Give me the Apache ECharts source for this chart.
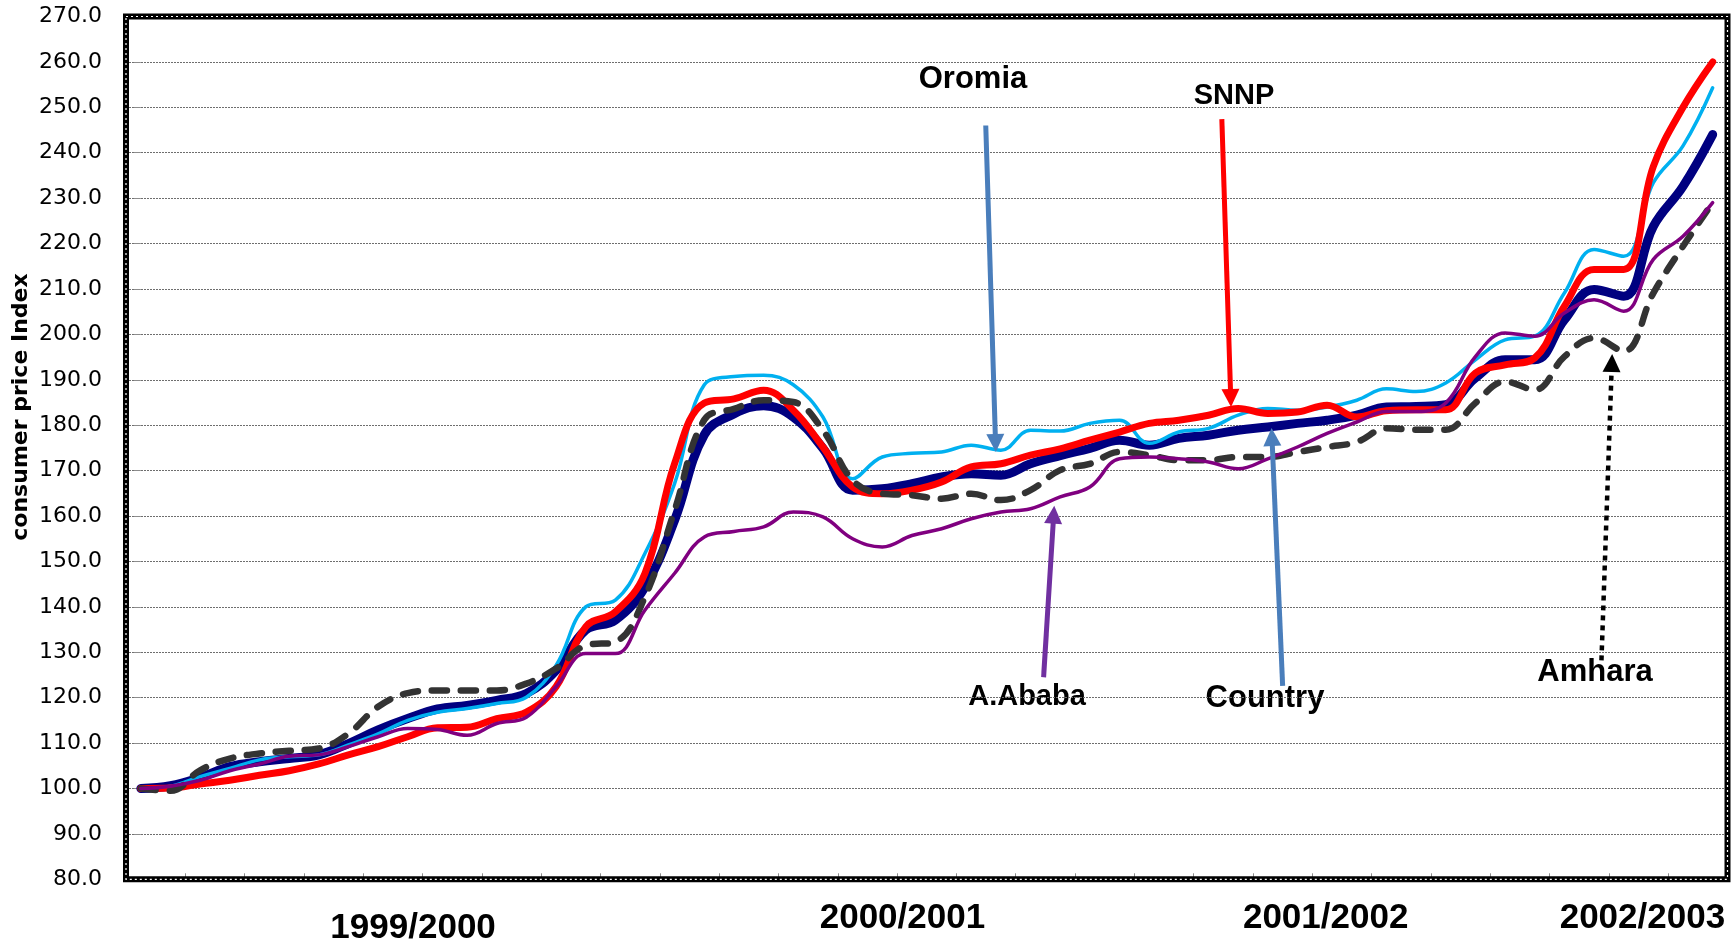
<!DOCTYPE html>
<html>
<head>
<meta charset="utf-8">
<title>consumer price Index</title>
<script src="https://cdn.jsdelivr.net/npm/echarts@6/dist/echarts.min.js"></script>
<style>
html, body { margin: 0; padding: 0; background: #fff; }
#cpi-chart { width: 1734px; height: 950px; }
</style>
</head>
<body>
<div id="cpi-chart"></div>
<script>
// monthly periods, 4 fiscal years
const periods = Array.from({ length: 54 }, (_, i) => "M" + (i + 1));

const country = [100.0, 100.6, 102.4, 104.8, 105.9, 106.6, 107.4, 109.9, 112.9, 115.4, 117.5,
  118.3, 119.4, 120.9, 126.0, 134.9, 137.1, 144.4, 159.1, 177.9, 182.5, 184.3,
  181.8, 174.9, 165.7, 166.0, 167.1, 168.6, 169.3, 169.0, 171.5, 173.3,
  174.9, 176.7, 175.6, 177.1, 177.8, 178.9, 179.6, 180.4, 181.1, 182.2, 184.0,
  184.1, 184.5, 190.4, 194.4, 194.4, 203.2, 209.9, 208.4, 223.8, 232.6, 244.0];

const oromia = [100.0, 100.5, 102.6, 104.4, 106.3, 107.0, 107.4, 109.6, 112.0, 115.0, 116.8,
  117.6, 118.7, 120.1, 127.1, 140.0, 141.5, 151.8, 167.2, 188.9, 190.7, 191.0,
  188.9, 181.8, 168.2, 173.0, 173.8, 174.1, 175.6, 174.5, 178.9, 178.7,
  180.4, 181.1, 176.0, 178.5, 179.3, 182.2, 183.7, 183.3, 184.0, 185.5, 188.0,
  187.4, 189.3, 194.4, 198.8, 199.6, 209.1, 218.7, 217.2, 233.4, 241.5, 254.3];

const snnp = [100.0, 100.1, 101.0, 101.8, 102.9, 103.9, 105.4, 107.4, 109.2, 111.4, 113.4,
  113.5, 115.4, 116.8, 122.4, 135.6, 138.9, 147.4, 171.6, 184.9, 185.8, 187.7,
  183.3, 175.2, 166.4, 164.9, 165.7, 167.5, 170.8, 171.5, 173.4, 174.8,
  176.7, 178.5, 180.4, 181.1, 182.2, 183.7, 182.6, 182.9, 184.4, 181.8, 183.2,
  183.4, 183.4, 191.5, 193.3, 194.8, 206.2, 214.3, 214.3, 237.0, 250.0, 260.0];

const amhara = [100.0, 99.5, 104.0, 106.6, 107.7, 108.3, 108.8, 112.1, 118.0, 121.0, 121.6,
  121.6, 121.6, 123.1, 126.4, 131.5, 132.3, 142.2, 161.3, 181.2, 183.6, 185.5,
  185.1, 178.9, 167.9, 164.9, 164.6, 163.8, 164.9, 163.5, 165.7, 170.1,
  171.5, 174.1, 173.4, 172.3, 172.3, 173.0, 173.0, 174.1, 175.2, 176.3, 179.3,
  179.0, 179.0, 184.9, 189.6, 187.8, 195.1, 199.2, 196.3, 209.1, 219.4, 229.0];

const aAbaba = [100.0, 100.5, 101.8, 103.9, 105.4, 107.1, 107.4, 109.2, 111.4, 113.2, 113.0,
  111.7, 114.3, 115.7, 122.4, 129.7, 129.7, 139.3, 147.4, 155.4, 156.6, 157.6,
  160.9, 159.8, 155.0, 153.2, 155.7, 157.2, 159.4, 160.9, 161.6, 164.2,
  166.4, 172.6, 173.0, 172.6, 171.9, 170.4, 172.6, 175.2, 178.2, 180.7, 183.0,
  183.0, 184.9, 195.1, 200.3, 199.6, 204.7, 207.6, 205.1, 216.5, 221.6, 229.0];

const yearLabels = ["1999/2000", "2000/2001", "2001/2002", "2002/2003"];
const yearLabelAt = [9.18, 25.68, 39.95, 50.63];

// annotation arrows, [from, to] in (period index, index value)
const arrows = [
  { name: "Oromia", from: [28.49, 246.0], to: [28.82, 176.1], color: "#4a7ebb" },
  { name: "SNNP", from: [36.45, 247.4], to: [36.75, 186.0], color: "#ff0000" },
  { name: "A.Ababa", from: [30.44, 124.5], to: [30.78, 160.3], color: "#7030a0" },
  { name: "Country", from: [38.5, 122.6], to: [38.14, 177.4], color: "#4a7ebb" },
  { name: "Amhara", from: [49.25, 128.2], to: [49.6, 193.7], color: "#000000", dotted: true }
];

const chart = echarts.init(document.getElementById("cpi-chart"));

const labelFont = "'Liberation Sans', Arial, sans-serif";

function lineSeries(name, data, color, width, dash) {
  return {
    name: name,
    type: "line",
    data: data,
    smooth: 0.4,
    symbol: "none",
    silent: true,
    lineStyle: {
      color: color,
      width: width,
      type: dash || "solid",
      cap: "round",
      join: "round"
    }
  };
}

function textItem(text, x, y, size) {
  return {
    type: "text",
    x: x,
    y: y,
    style: {
      text: text,
      fill: "#000",
      font: "bold " + size + "px " + labelFont,
      align: "center",
      verticalAlign: "middle",
      textAlign: "center",
      textVerticalAlign: "middle"
    }
  };
}

const option = {
  animation: false,
  backgroundColor: "#fff",
  grid: {
    left: 126,
    right: 6.5,
    top: 16.5,
    bottom: 70.7,
    containLabel: false,
    outerBoundsMode: "none",
    show: true,
    borderColor: "#000",
    borderWidth: 6,
    z: 3
  },
  xAxis: [
    {
      type: "category",
      data: periods,
      boundaryGap: true,
      axisLine: { show: false },
      axisTick: { show: true, inside: true, length: 6, lineStyle: { color: "#8c8c8c", width: 1 } },
      axisLabel: { show: false },
      splitLine: { show: false }
    },
    {
      type: "value",
      min: -0.5,
      max: 53.5,
      position: "bottom",
      axisLine: { show: false },
      axisTick: { show: false },
      splitLine: { show: false },
      axisLabel: {
        customValues: yearLabelAt,
        margin: 39,
        verticalAlign: "middle",
        formatter: function (v) {
          const k = yearLabelAt.findIndex((p) => Math.abs(p - v) < 0.01);
          if (k < 0) return "";
          return (k === 0 ? "{lo|" : "{hi|") + yearLabels[k] + "}";
        },
        rich: {
          hi: { fontSize: 35, fontWeight: "bold", fontFamily: labelFont, color: "#000" },
          lo: { fontSize: 35, fontWeight: "bold", fontFamily: labelFont, color: "#000", padding: [20, 0, 0, 0] }
        }
      }
    }
  ],
  yAxis: {
    type: "value",
    min: 80,
    max: 270,
    interval: 10,
    axisLine: { show: false },
    axisTick: { show: true, length: 7, lineStyle: { color: "#8c8c8c" } },
    axisLabel: {
      margin: 24,
      color: "#000",
      fontSize: 22,
      fontFamily: "'DejaVu Sans', sans-serif",
      formatter: (v) => v.toFixed(1)
    },
    splitLine: { show: true, lineStyle: { color: "#6e6e6e", width: 1, type: [2, 1] } }
  },
  series: [
    lineSeries("Country", country, "#000080", 9),
    lineSeries("Oromia", oromia, "#00b0f0", 3.5),
    lineSeries("SNNP", snnp, "#ff0000", 7),
    lineSeries("Amhara", amhara, "#333333", 6.5, [15, 14]),
    lineSeries("A.Ababa", aAbaba, "#800080", 3.5),
    {
      name: "arrows",
      type: "line",
      xAxisIndex: 1,
      data: [],
      silent: true,
      markLine: {
        silent: true,
        animation: false,
        symbol: ["none", "triangle"],
        symbolSize: 18,
        label: { show: false },
        data: arrows.map((a) => [
          {
            coord: a.from,
            lineStyle: {
              color: a.color,
              width: a.dotted ? 4.5 : 5,
              type: a.dotted ? [5, 5] : "solid"
            },
            itemStyle: { color: a.color }
          },
          { coord: a.to }
        ])
      }
    }
  ],
  graphic: [
    {
      type: "rect",
      shape: { x: 126, y: 16.5, width: 1601.5, height: 862.8 },
      style: { fill: "none", stroke: "#fff", lineWidth: 1.2, lineDash: [2, 3] },
      z: 100
    },
    {
      type: "text",
      x: 21,
      y: 407,
      rotation: Math.PI / 2,
      style: {
        text: "consumer price Index",
        fill: "#000",
        font: "bold 22px 'DejaVu Sans', sans-serif",
        align: "center",
        verticalAlign: "middle",
        textAlign: "center",
        textVerticalAlign: "middle"
      }
    },
    textItem("Oromia", 973, 79, 31),
    textItem("SNNP", 1234, 96, 29),
    textItem("A.Ababa", 1027, 697, 29),
    textItem("Country", 1265, 698, 31),
    textItem("Amhara", 1595, 672, 31)
  ]
};

chart.setOption(option);
</script>
</body>
</html>
